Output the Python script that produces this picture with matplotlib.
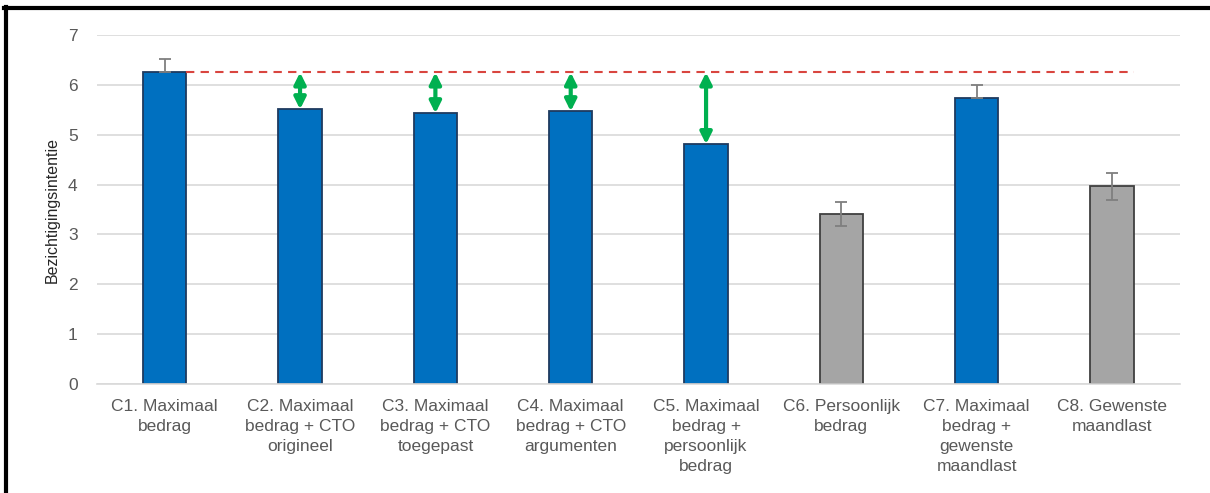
import numpy as np
import matplotlib.pyplot as plt
from matplotlib.lines import Line2D

# ============ Data ============
categories = ['C1. Maximaal\nbedrag',
              'C2. Maximaal\nbedrag + CTO\norigineel',
              'C3. Maximaal\nbedrag + CTO\ntoegepast',
              'C4. Maximaal\nbedrag + CTO\nargumenten',
              'C5. Maximaal\nbedrag +\npersoonlijk\nbedrag',
              'C6. Persoonlijk\nbedrag',
              'C7. Maximaal\nbedrag +\ngewenste\nmaandlast',
              'C8. Gewenste\nmaandlast']
values = [6.25, 5.51, 5.43, 5.47, 4.81, 3.41, 5.73, 3.97]
errors = [0.26, 0, 0, 0, 0, 0.25, 0.26, 0.27]
is_max = [True, True, True, True, True, False, True, False]
arrow_bars = [1, 2, 3, 4]

# ============ Font ============
plt.rcParams['font.family'] = ['Liberation Sans', 'DejaVu Sans']

fig = plt.figure(figsize=(12.1, 4.93), dpi=100)
ax = fig.add_axes([0.0802, 0.221, 0.8948, 0.708])

x = np.arange(len(categories))
fills = ['#0070C0' if m else '#A5A5A5' for m in is_max]
edges = ['#1F3A5F' if m else '#404040' for m in is_max]
ax.bar(x, values, width=0.32, color=fills, edgecolor=edges, linewidth=1.3, zorder=2)

# error bars: blue bars hide the lower half, grey bars show both
for xi, v, e, m in zip(x, values, errors, is_max):
    if e > 0:
        yerr = [[0], [e]] if m else [[e], [e]]
        ax.errorbar(xi, v, yerr=yerr, fmt='none', ecolor='#7F7F7F', elinewidth=1.3,
                    capsize=4, capthick=1.3, zorder=3)

# reference line at C1 level
ref = values[0]
ax.hlines(ref, x[0] + 0.16, x[-1] + 0.16, colors='#D9453F', linestyles=(0, (4, 3)),
          linewidth=1.5, zorder=4)

# green double arrows showing the gap to C1
for i in arrow_bars:
    ax.annotate('', xy=(x[i], values[i]), xytext=(x[i], ref),
                arrowprops=dict(arrowstyle='<|-|>', color='#00B050', lw=3,
                                mutation_scale=17, shrinkA=0, shrinkB=0),
                zorder=5)

# ============ Axes styling ============
ax.set_xlim(-0.5, len(categories) - 0.5)
ax.set_ylim(0, 7)
ax.set_yticks(range(0, 8))
ax.yaxis.grid(True, color='#D9D9D9', linewidth=1.2, zorder=0)
ax.set_axisbelow(True)
for s in ['top', 'right', 'left']:
    ax.spines[s].set_visible(False)
ax.spines['bottom'].set_color('#D9D9D9')
ax.spines['bottom'].set_linewidth(1.2)
ax.set_xticks(x)
ax.set_xticklabels(categories, fontsize=12.5, color='#595959', linespacing=1.4)
ax.tick_params(axis='both', length=0, labelsize=12.5, labelcolor='#595959')
ax.tick_params(axis='x', pad=11)
ax.tick_params(axis='y', pad=14)
ax.set_ylabel('Bezichtigingsintentie', fontsize=11.5, color='#262626', labelpad=6)

# frame (left and top edges)
fig.add_artist(Line2D([0.005, 0.005], [0, 0.985], transform=fig.transFigure,
                      color='black', linewidth=3))
fig.add_artist(Line2D([0.003, 1.0], [0.983, 0.983], transform=fig.transFigure,
                      color='black', linewidth=3))

fig.savefig('out.png', dpi=100)
